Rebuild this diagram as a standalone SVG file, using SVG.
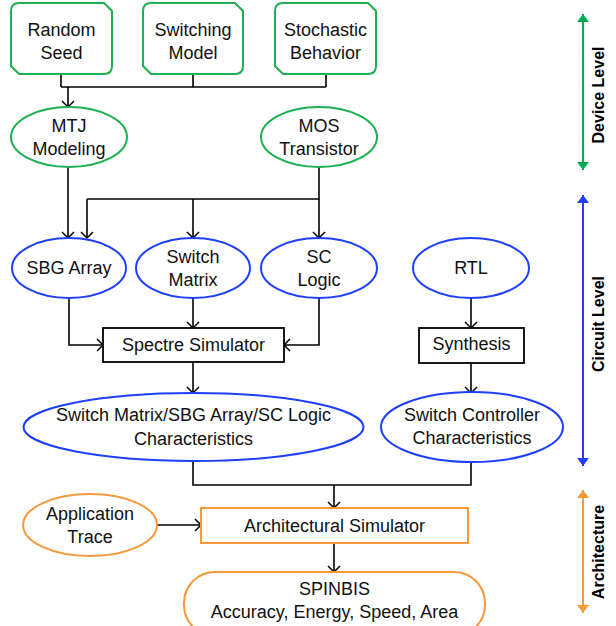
<svg xmlns="http://www.w3.org/2000/svg" width="616" height="626" viewBox="0 0 616 626">
<defs>
<marker id="open" markerUnits="userSpaceOnUse" markerWidth="14" markerHeight="14" refX="7" refY="7" orient="auto">
<path d="M1,1 L7,7 L1,13" fill="none" stroke="#000" stroke-width="1.5"/>
</marker>
<marker id="tg" markerUnits="userSpaceOnUse" markerWidth="12" markerHeight="12" refX="8" refY="6" orient="auto-start-reverse">
<path d="M0,0 L8,6 L0,12 Z" fill="#00B050"/>
</marker>
<marker id="tb" markerUnits="userSpaceOnUse" markerWidth="12" markerHeight="12" refX="8" refY="6" orient="auto-start-reverse">
<path d="M0,0 L8,6 L0,12 Z" fill="#1F3FFF"/>
</marker>
<marker id="to" markerUnits="userSpaceOnUse" markerWidth="12" markerHeight="12" refX="8" refY="6" orient="auto-start-reverse">
<path d="M0,0 L8,6 L0,12 Z" fill="#F7993A"/>
</marker>
</defs>
<style>
text{font-family:"Liberation Sans",Arial,sans-serif;font-size:18px;fill:#111;text-anchor:middle}
.side{font-weight:bold;font-size:16px;fill:#000}
.g{fill:#fff;stroke:#1DAF50;stroke-width:2}
.b{fill:#fff;stroke:#1F3FFF;stroke-width:2}
.o{fill:#fff;stroke:#F7993A;stroke-width:2}
.k{fill:#fff;stroke:#000;stroke-width:1.8}
.c{fill:none;stroke:#000;stroke-width:1.6}
.ca{fill:none;stroke:#000;stroke-width:1.6;marker-end:url(#open)}
</style>
<rect width="616" height="626" fill="#fff"/>
<g id="connectors">
<path class="c" d="M61,74 V87 M193,74 V87 M326,74 V87 M61,87 H326"/>
<path class="ca" d="M68,87 V107"/>
<path class="ca" d="M68,167 V238"/>
<path class="c" d="M319,167 V199 H87"/>
<path class="ca" d="M87,199 V238"/>
<path class="ca" d="M193,199 V238"/>
<path class="ca" d="M319,199 V238"/>
<path class="ca" d="M69,298 V345 H103"/>
<path class="ca" d="M193,298 V328"/>
<path class="ca" d="M319,298 V345 H284"/>
<path class="ca" d="M471,298 V328"/>
<path class="ca" d="M193,362 V393"/>
<path class="ca" d="M471,363 V393"/>
<path class="c" d="M193,461 V485 H471 V462"/>
<path class="ca" d="M334,485 V508"/>
<path class="ca" d="M157,525 H201"/>
<path class="ca" d="M334,543 V572"/>
</g>
<g id="random-seed">
<path class="g" d="M19,3 H104 L112,11 V66 Q112,74 104,74 H19 L11,66 V11 Q11,3 19,3 Z"/>
<text x="61.5" y="36">Random</text><text x="61.5" y="59">Seed</text>
</g>
<g id="switching-model">
<path class="g" d="M151,3 H235 L243,11 V66 Q243,74 235,74 H151 L143,66 V11 Q143,3 151,3 Z"/>
<text x="193" y="36">Switching</text><text x="193" y="59">Model</text>
</g>
<g id="stochastic-behavior">
<path class="g" d="M283,3 H368 L376,11 V66 Q376,74 368,74 H283 L275,66 V11 Q275,3 283,3 Z"/>
<text x="325.5" y="36">Stochastic</text><text x="325.5" y="59">Behavior</text>
</g>
<g id="mtj-modeling">
<ellipse class="g" cx="69" cy="137" rx="58" ry="30"/>
<text x="69" y="132">MTJ</text><text x="69" y="155">Modeling</text>
</g>
<g id="mos-transistor">
<ellipse class="g" cx="319" cy="137" rx="58" ry="30"/>
<text x="319" y="132">MOS</text><text x="319" y="155">Transistor</text>
</g>
<g id="sbg-array">
<ellipse class="b" cx="69" cy="268" rx="57" ry="30"/>
<text x="69" y="274">SBG Array</text>
</g>
<g id="switch-matrix">
<ellipse class="b" cx="193" cy="268" rx="57" ry="30"/>
<text x="193" y="263">Switch</text><text x="193" y="286">Matrix</text>
</g>
<g id="sc-logic">
<ellipse class="b" cx="319" cy="268" rx="58" ry="30"/>
<text x="319" y="263">SC</text><text x="319" y="286">Logic</text>
</g>
<g id="rtl">
<ellipse class="b" cx="471" cy="268" rx="58" ry="30"/>
<text x="471" y="274">RTL</text>
</g>
<g id="spectre-simulator">
<rect class="k" x="103" y="328" width="181" height="34"/>
<text x="193.5" y="351">Spectre Simulator</text>
</g>
<g id="synthesis">
<rect class="k" x="419" y="328" width="105" height="35"/>
<text x="471.5" y="350">Synthesis</text>
</g>
<g id="sm-characteristics">
<ellipse class="b" cx="193.5" cy="427" rx="170" ry="34"/>
<text x="193.5" y="421">Switch Matrix/SBG Array/SC Logic</text><text x="193.5" y="445">Characteristics</text>
</g>
<g id="sc-characteristics">
<ellipse class="b" cx="472" cy="427" rx="91" ry="35"/>
<text x="472" y="421">Switch Controller</text><text x="472" y="444">Characteristics</text>
</g>
<g id="application-trace">
<ellipse class="o" cx="90" cy="525" rx="67" ry="31"/>
<text x="90" y="520">Application</text><text x="90" y="543">Trace</text>
</g>
<g id="architectural-simulator">
<rect class="o" x="201" y="508" width="267" height="35"/>
<text x="334.5" y="532">Architectural Simulator</text>
</g>
<g id="spinbis">
<rect class="o" x="184" y="572" width="301" height="64" rx="31" ry="31"/>
<text x="334.5" y="595">SPINBIS</text><text x="334.5" y="618">Accuracy, Energy, Speed, Area</text>
</g>
<g id="levels">
<path d="M583,14 V170" stroke="#00B050" stroke-width="2" marker-start="url(#tg)" marker-end="url(#tg)"/>
<path d="M583,195 V466" stroke="#1F3FFF" stroke-width="2" marker-start="url(#tb)" marker-end="url(#tb)"/>
<path d="M583,490 V613" stroke="#F7993A" stroke-width="2" marker-start="url(#to)" marker-end="url(#to)"/>
<text class="side" transform="translate(604,95) rotate(-90)">Device Level</text>
<text class="side" transform="translate(604,324) rotate(-90)">Circuit Level</text>
<text class="side" transform="translate(604,552) rotate(-90)">Architecture</text>
</g>
</svg>
